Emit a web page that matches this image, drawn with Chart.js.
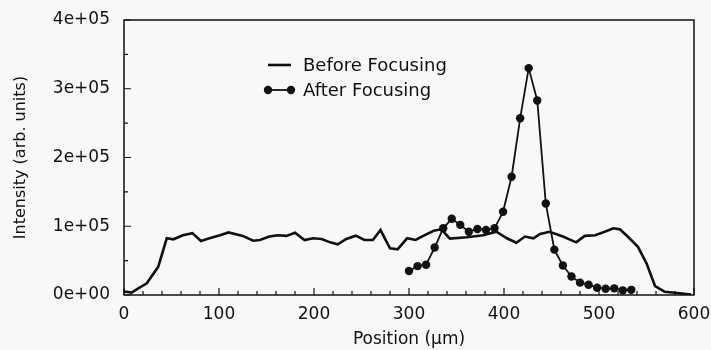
<!DOCTYPE html>
<html>
<head>
<meta charset="utf-8">
<script src="https://cdn.jsdelivr.net/npm/chart.js@4"></script>
<style>
  html, body { margin: 0; padding: 0; background: #f8f8f8; }
  #wrap { width: 711px; height: 350px; }
</style>
</head>
<body>
<div id="wrap"><canvas id="chart" width="711" height="350"></canvas></div>
<script>
// Data
const beforeX = [0, 8, 15, 24, 36, 45, 52, 62, 72, 81, 90, 101, 110, 125, 136, 143, 153, 162, 171, 180,
  190, 199, 208, 217, 225, 234, 244, 253, 262, 270, 280, 288, 298, 307, 315, 326, 334, 343, 361, 378,
  392, 403, 413, 422, 431, 438, 448, 462, 476, 485, 496, 506, 515, 522, 531, 541, 550, 559, 569, 585, 597];
const beforeY = [5000, 3500, 9700, 17000, 41000, 82500, 81000, 87000, 90000, 78500, 82500, 87000, 91000, 86000, 79000, 80000, 85000, 87000, 86000, 90600,
  80000, 82500, 81500, 76600, 73700, 81500, 86300, 80000, 80000, 94500, 68000, 66500, 82500, 80000, 86000, 93500, 95500, 82000, 84000, 87000,
  92000, 82500, 76000, 85000, 82500, 88700, 92000, 85000, 76600, 86000, 87000, 92000, 97000, 95500, 84000, 70000, 46000, 13000, 4800, 2500, 500];

const afterX = [300, 309, 318, 327, 336, 345, 354, 363, 372, 381, 390, 399, 408, 417, 426, 435, 444,
  453, 462, 471, 480, 489, 498, 507, 516, 525, 534];
const afterY = [35000, 42000, 44000, 69000, 97000, 111000, 102000, 92000, 96000, 94500, 97000, 121000, 172000, 257000, 330000, 283000, 133000,
  66000, 43000, 27000, 18000, 15000, 10600, 9200, 9700, 6800, 7500];

const seriesLabels = ['Before Focusing', 'After Focusing'];
const yTickLabels = ['0e+00', '1e+05', '2e+05', '3e+05', '4e+05'];
const xTitle = 'Position (\u00b5m)';
const yTitle = 'Intensity (arb. units)';

const INK = '#111';
const FONT = 'DejaVu Sans';

const toPoints = (xs, ys) => xs.map((x, i) => ({ x: x, y: ys[i] }));

// Box, inward ticks and legend
const frame = {
  id: 'frame',
  afterDraw(chart) {
    const { ctx, chartArea: a, scales: { x, y } } = chart;
    ctx.save();
    ctx.strokeStyle = INK;
    ctx.lineWidth = 1.5;
    ctx.strokeRect(a.left, a.top, a.right - a.left, a.bottom - a.top);

    ctx.lineWidth = 1.2;
    ctx.beginPath();
    for (let v = 0; v <= 600; v += 20) {
      const px = x.getPixelForValue(v);
      const len = v % 100 === 0 ? 7 : 4;
      ctx.moveTo(px, a.bottom);
      ctx.lineTo(px, a.bottom - len);
    }
    for (let v = 0; v <= 400000; v += 50000) {
      const py = y.getPixelForValue(v);
      const len = v % 100000 === 0 ? 7 : 4;
      ctx.moveTo(a.left, py);
      ctx.lineTo(a.left + len, py);
    }
    ctx.stroke();

    // legend
    const lx0 = 268, lx1 = 291, tx = 303;
    const rows = [65, 90];
    ctx.font = '18px "' + FONT + '"';
    ctx.fillStyle = INK;
    ctx.textBaseline = 'middle';
    chart.data.datasets.forEach((ds, i) => {
      const ly = rows[i];
      ctx.lineWidth = ds.borderWidth;
      ctx.beginPath();
      ctx.moveTo(lx0, ly);
      ctx.lineTo(lx1, ly);
      ctx.stroke();
      if (ds.pointRadius > 0) {
        [lx0, lx1].forEach(px => {
          ctx.beginPath();
          ctx.arc(px, ly, ds.pointRadius, 0, Math.PI * 2);
          ctx.fill();
        });
      }
      ctx.fillText(ds.label, tx, ly + 1);
    });
    ctx.restore();
  }
};

new Chart(document.getElementById('chart'), {
  type: 'line',
  data: {
    datasets: [
      {
        label: seriesLabels[0],
        data: toPoints(beforeX, beforeY),
        borderColor: INK,
        borderWidth: 2.6,
        pointRadius: 0,
        tension: 0,
        fill: false
      },
      {
        label: seriesLabels[1],
        data: toPoints(afterX, afterY),
        borderColor: INK,
        backgroundColor: INK,
        borderWidth: 1.8,
        pointRadius: 4.2,
        pointBackgroundColor: INK,
        pointBorderWidth: 0,
        tension: 0,
        fill: false
      }
    ]
  },
  options: {
    responsive: false,
    animation: false,
    events: [],
    layout: { padding: { top: 20, right: 0, bottom: 0, left: 0 } },
    plugins: { legend: { display: false }, tooltip: { enabled: false } },
    scales: {
      x: {
        type: 'linear',
        min: 0,
        max: 600,
        grid: { display: false, drawTicks: false },
        border: { display: false },
        ticks: { stepSize: 100, color: INK, padding: 9, font: { family: FONT, size: 17 } },
        title: { display: true, text: xTitle, color: INK, padding: { top: 7, bottom: 0 }, font: { family: FONT, size: 17 } },
        afterFit(s) { s.height = 55; s.paddingLeft = 0; s.paddingRight = 17; }
      },
      y: {
        type: 'linear',
        min: 0,
        max: 400000,
        grid: { display: false, drawTicks: false },
        border: { display: false },
        ticks: {
          stepSize: 100000,
          color: INK,
          padding: 14,
          font: { family: FONT, size: 17 },
          callback: (v) => yTickLabels[Math.round(v / 100000)]
        },
        title: { display: true, text: yTitle, color: INK, padding: { top: 11, bottom: 0 }, font: { family: FONT, size: 16 } },
        afterFit(s) { s.width = 124; s.paddingTop = 0; s.paddingBottom = 0; }
      }
    }
  },
  plugins: [frame]
});
</script>
</body>
</html>
